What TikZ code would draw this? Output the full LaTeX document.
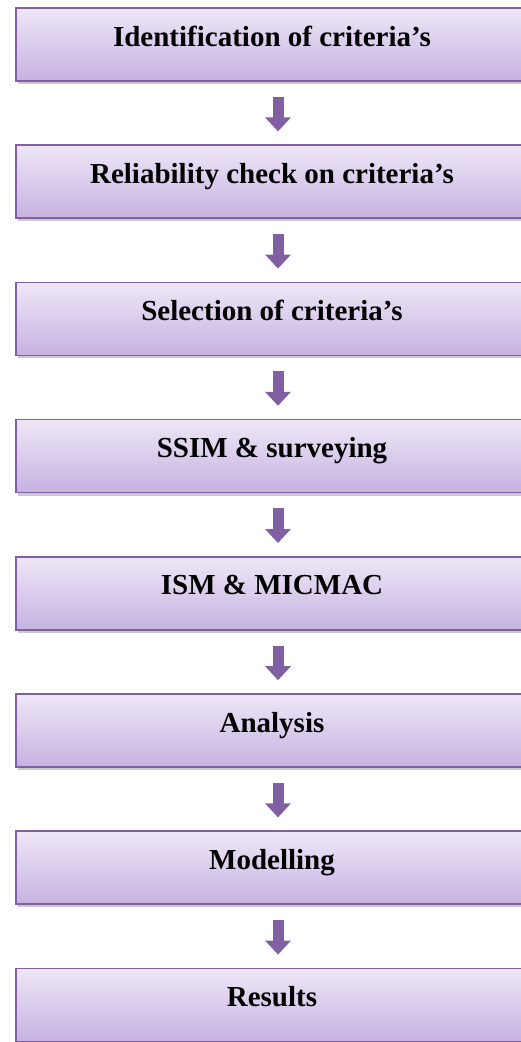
\documentclass[tikz,border=0pt]{standalone}
\usepackage{fontspec}
\setmainfont{Liberation Serif}
\usetikzlibrary{positioning,arrows.meta,shadows}
\definecolor{stepline}{RGB}{128,96,162}
\definecolor{steptop}{RGB}{238,231,247}
\definecolor{stepbottom}{RGB}{198,178,225}
\tikzset{
  stepbox/.style={draw=stepline, line width=1.6pt, top color=steptop, bottom color=stepbottom,
    minimum width=512pt, minimum height=73pt, text depth=16pt, text height=19pt,
    font=\fontsize{29}{33}\selectfont\bfseries,
    drop shadow={shadow xshift=2pt, shadow yshift=-3pt, opacity=0.35, fill=black!60}},
  flow/.style={stepline, line width=11pt, -{Triangle[width=25pt,length=14pt]}}
}
\begin{document}
\begin{tikzpicture}[x=1pt,y=1pt, node distance=62.6pt]
\useasboundingbox (0,0) rectangle (521,-1042);
% Steps
\node[stepbox] (s1) at (272,-44.5) {Identification of criteria’s};
\node[stepbox, below=of s1] (s2) {Reliability check on criteria’s};
\node[stepbox, below=of s2] (s3) {Selection of criteria’s};
\node[stepbox, below=of s3] (s4) {SSIM \& surveying};
\node[stepbox, below=of s4] (s5) {ISM \& MICMAC};
\node[stepbox, below=of s5] (s6) {Analysis};
\node[stepbox, below=of s6] (s7) {Modelling};
\node[stepbox, below=of s7] (s8) {Results};

% Arrows between steps
\foreach \a/\b in {s1/s2,s2/s3,s3/s4,s4/s5,s5/s6,s6/s7,s7/s8} {
  \draw[flow] ([xshift=6pt,yshift=-15pt]\a.south) -- ([xshift=6pt,yshift=13pt]\b.north);
}
\end{tikzpicture}
\end{document}
